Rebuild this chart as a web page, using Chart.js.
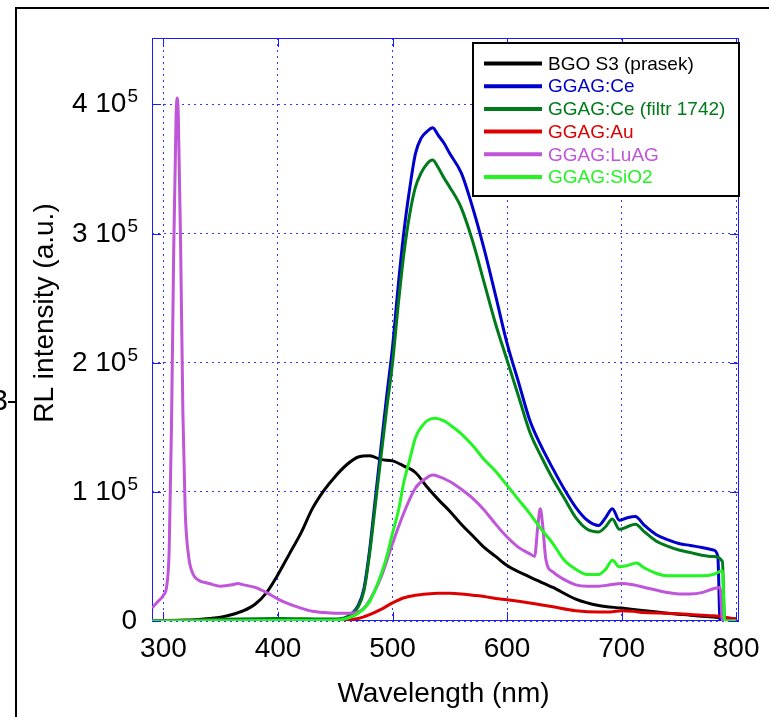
<!DOCTYPE html>
<html>
<head>
<meta charset="utf-8">
<title>RL spectra</title>
<script src="https://cdn.jsdelivr.net/npm/chart.js@4.4.1/dist/chart.umd.min.js"></script>
<style>
  html, body { margin: 0; padding: 0; background: #fff; }
  canvas { display: block; }
</style>
</head>
<body>
<canvas id="rl-chart" width="769" height="717"></canvas>
<script>
// values, intensity in units of 10^5
const xTicks = [300, 400, 500, 600, 700, 800];
const yTicks = [0, 1, 2, 3, 4];

const bgoNm  = [290, 320, 340, 350, 360, 370, 380, 390, 400, 410, 420, 430, 440, 450, 460, 470, 480, 490, 500, 510, 520, 530, 540, 550, 560, 570, 580, 590, 600, 620, 640, 660, 680, 700, 720, 740, 760, 780, 800];
const bgoVal = [0.003, 0.005, 0.02, 0.03, 0.05, 0.08, 0.13, 0.22, 0.36, 0.52, 0.68, 0.87, 1.01, 1.12, 1.21, 1.27, 1.28, 1.25, 1.24, 1.2, 1.15, 1.04, 0.94, 0.85, 0.75, 0.66, 0.57, 0.5, 0.43, 0.34, 0.26, 0.17, 0.12, 0.1, 0.08, 0.06, 0.045, 0.03, 0.015];

const ceNm  = [290, 400, 450, 460, 470, 475, 480, 485, 490, 495, 500, 505, 510, 515, 520, 525, 530, 535, 540, 545, 550, 560, 570, 580, 590, 600, 610, 620, 630, 640, 650, 660, 670, 680, 686, 692, 698, 705, 712, 720, 730, 740, 750, 760, 770, 780, 784, 786, 800];
const ceVal = [0, 0.005, 0.01, 0.03, 0.12, 0.25, 0.55, 0.95, 1.35, 1.75, 2.12, 2.6, 3.02, 3.35, 3.62, 3.74, 3.79, 3.82, 3.76, 3.7, 3.62, 3.47, 3.2, 2.88, 2.52, 2.15, 1.85, 1.55, 1.35, 1.18, 1.02, 0.88, 0.78, 0.74, 0.8, 0.87, 0.78, 0.8, 0.81, 0.74, 0.67, 0.63, 0.6, 0.585, 0.57, 0.55, 0.5, 0, 0];

const filtrNm  = [290, 330, 400, 450, 460, 470, 475, 480, 485, 490, 495, 500, 505, 510, 515, 520, 525, 530, 535, 540, 545, 550, 560, 570, 580, 590, 600, 610, 620, 630, 640, 650, 660, 670, 680, 686, 692, 698, 705, 712, 720, 730, 740, 750, 760, 770, 780, 788, 790, 800];
const filtrVal = [0, 0.01, 0.02, 0.015, 0.03, 0.11, 0.23, 0.52, 0.9, 1.28, 1.65, 2.0, 2.45, 2.85, 3.15, 3.36, 3.47, 3.54, 3.57, 3.51, 3.43, 3.36, 3.2, 2.94, 2.62, 2.3, 2.02, 1.74, 1.46, 1.27, 1.1, 0.95, 0.8, 0.71, 0.69, 0.73, 0.79, 0.71, 0.73, 0.75, 0.69, 0.62, 0.58, 0.55, 0.53, 0.51, 0.5, 0.46, 0, 0];

const auNm  = [290, 440, 450, 460, 470, 480, 490, 500, 510, 520, 530, 540, 550, 560, 570, 580, 590, 600, 620, 640, 660, 680, 690, 700, 710, 720, 740, 760, 780, 790, 800];
const auVal = [0, 0, 0.002, 0.01, 0.02, 0.05, 0.09, 0.14, 0.18, 0.2, 0.21, 0.215, 0.215, 0.21, 0.2, 0.19, 0.175, 0.165, 0.14, 0.11, 0.08, 0.07, 0.07, 0.08, 0.075, 0.065, 0.06, 0.05, 0.04, 0.03, 0.015];

const luagNm  = [290, 295, 300, 303, 305, 307, 309, 311, 312, 313, 315, 317, 319, 322, 326, 330, 340, 350, 360, 365, 370, 380, 390, 400, 410, 420, 430, 440, 450, 460, 470, 475, 480, 490, 500, 510, 520, 530, 535, 540, 550, 560, 570, 580, 590, 600, 610, 620, 624, 627, 629, 631, 634, 640, 650, 660, 670, 680, 690, 700, 710, 720, 730, 740, 750, 760, 770, 780, 786, 788, 800];
const luagVal = [0.1, 0.15, 0.2, 0.28, 0.55, 1.5, 2.9, 3.9, 4.05, 3.9, 2.9, 1.6, 0.85, 0.5, 0.36, 0.32, 0.29, 0.27, 0.28, 0.29, 0.28, 0.26, 0.22, 0.17, 0.13, 0.1, 0.075, 0.065, 0.06, 0.06, 0.07, 0.1, 0.16, 0.34, 0.6, 0.84, 1.03, 1.11, 1.13, 1.12, 1.08, 1.02, 0.95, 0.86, 0.75, 0.65, 0.57, 0.52, 0.5, 0.75, 0.87, 0.75, 0.47, 0.38, 0.32, 0.28, 0.27, 0.27, 0.28, 0.29, 0.28, 0.26, 0.24, 0.22, 0.21, 0.21, 0.22, 0.25, 0.26, 0, 0];

const sio2Nm  = [290, 450, 460, 470, 480, 490, 495, 500, 505, 510, 515, 520, 525, 530, 537, 545, 550, 560, 570, 580, 590, 600, 610, 620, 630, 640, 650, 660, 670, 680, 686, 692, 698, 705, 713, 720, 730, 740, 750, 760, 770, 780, 788, 790, 800];
const sio2Val = [0, 0.005, 0.02, 0.06, 0.15, 0.36, 0.5, 0.68, 0.85, 1.08, 1.25, 1.42, 1.5, 1.55, 1.57, 1.55, 1.52, 1.45, 1.36, 1.25, 1.16, 1.05, 0.94, 0.83, 0.71, 0.6, 0.47, 0.4, 0.36, 0.36, 0.4, 0.47, 0.42, 0.43, 0.45, 0.41, 0.37, 0.35, 0.35, 0.35, 0.35, 0.36, 0.39, 0, 0];

const labels = ['BGO S3 (prasek)', 'GGAG:Ce', 'GGAG:Ce (filtr 1742)', 'GGAG:Au', 'GGAG:LuAG', 'GGAG:SiO2'];
const colors = ['#000000', '#0000cc', '#007a1a', '#dd0000', '#bf55d8', '#22f522'];
const series = [[bgoNm, bgoVal], [ceNm, ceVal], [filtrNm, filtrVal], [auNm, auVal], [luagNm, luagVal], [sio2Nm, sio2Val]];

const FONT = "'Liberation Sans', Arial, sans-serif";
const axisBlue = '#1a1aff';
const gridBlue = 'rgba(20,20,255,0.85)';

const toPoints = (nm, val) => nm.map((x, i) => ({ x: x, y: val[i] }));

const datasets = series.map((s, i) => ({
    label: labels[i],
    data: toPoints(s[0], s[1]),
    borderColor: colors[i],
    backgroundColor: colors[i],
    borderWidth: 3,
    pointRadius: 0,
    cubicInterpolationMode: 'monotone',
    order: series.length - i // later series on top, like matlab
}));

const matlabLook = {
    id: 'matlabLook',
    beforeDatasetsDraw(chart) {
        const { ctx, chartArea: a, scales: { x, y } } = chart;
        ctx.save();
        ctx.strokeStyle = axisBlue;
        ctx.lineWidth = 1;
        ctx.strokeRect(a.left + 0.5, a.top + 0.5, a.width - 1, a.height - 1);
        ctx.beginPath();
        xTicks.forEach(v => {
            const px = Math.round(x.getPixelForValue(v)) + 0.5;
            ctx.moveTo(px, a.bottom); ctx.lineTo(px, a.bottom - 9);
            ctx.moveTo(px, a.top); ctx.lineTo(px, a.top + 9);
        });
        yTicks.forEach(v => {
            const py = Math.round(y.getPixelForValue(v)) + 0.5;
            ctx.moveTo(a.left, py); ctx.lineTo(a.left + 9, py);
            ctx.moveTo(a.right, py); ctx.lineTo(a.right - 9, py);
        });
        ctx.stroke();
        ctx.restore();
    },
    afterDraw(chart) {
        const { ctx, chartArea: a, scales: { x, y } } = chart;
        ctx.save();
        ctx.fillStyle = '#000';

        // x tick labels
        ctx.font = '28px ' + FONT;
        ctx.textAlign = 'center';
        ctx.textBaseline = 'alphabetic';
        xTicks.forEach(v => ctx.fillText(String(v), x.getPixelForValue(v), 657));

        // y tick labels, "n 10^5"
        ctx.textAlign = 'right';
        yTicks.forEach(v => {
            const py = y.getPixelForValue(v);
            if (v === 0) {
                ctx.font = '28px ' + FONT;
                ctx.fillText('0', 137, py + 8);
                return;
            }
            ctx.font = '19px ' + FONT;
            ctx.fillText('5', 138, py - 2);
            const supW = ctx.measureText('5').width;
            ctx.font = '28px ' + FONT;
            ctx.fillText(v + ' 10', 138 - supW - 1, py + 8);
        });

        // axis titles
        ctx.textAlign = 'center';
        ctx.fillText('Wavelength (nm)', (a.left + a.right) / 2 - 2, 702);
        ctx.save();
        ctx.translate(53, 313);
        ctx.rotate(-Math.PI / 2);
        ctx.fillText('RL intensity (a.u.)', 0, 0);
        ctx.restore();

        // legend box
        const lx = 473, ly = 43, lw = 266, lh = 153;
        ctx.fillStyle = '#fff';
        ctx.fillRect(lx, ly, lw, lh);
        ctx.strokeStyle = '#000';
        ctx.lineWidth = 2;
        ctx.strokeRect(lx, ly, lw, lh);
        ctx.font = '19px ' + FONT;
        ctx.textAlign = 'left';
        ctx.textBaseline = 'middle';
        chart.data.datasets.forEach((ds, i) => {
            const ry = 63.5 + i * 22.7;
            ctx.strokeStyle = ds.borderColor;
            ctx.lineWidth = 4;
            ctx.beginPath();
            ctx.moveTo(484, ry);
            ctx.lineTo(542, ry);
            ctx.stroke();
            ctx.fillStyle = ds.borderColor;
            ctx.fillText(ds.label, 548, ry + 1);
        });

        // outer frame of the cropped figure
        ctx.strokeStyle = '#000';
        ctx.lineWidth = 2;
        ctx.beginPath();
        ctx.moveTo(16, 717);
        ctx.lineTo(16, 8);
        ctx.lineTo(769, 8);
        ctx.stroke();
        ctx.beginPath();
        ctx.moveTo(8, 402);
        ctx.lineTo(16, 402);
        ctx.stroke();
        ctx.fillStyle = '#000';
        ctx.font = '30px ' + FONT;
        ctx.textAlign = 'right';
        ctx.textBaseline = 'alphabetic';
        ctx.fillText('3', 8, 410);
        ctx.restore();
    }
};

new Chart(document.getElementById('rl-chart').getContext('2d'), {
    type: 'line',
    data: { datasets: datasets },
    options: {
        responsive: false,
        animation: false,
        devicePixelRatio: 1,
        layout: { padding: { left: 152, right: 30, top: 38, bottom: 96 } },
        plugins: { legend: { display: false }, tooltip: { enabled: false } },
        scales: {
            x: {
                type: 'linear',
                min: 290,
                max: 802.5,
                afterBuildTicks: s => { s.ticks = xTicks.map(v => ({ value: v })); },
                afterFit: s => { s.height = 0; },
                ticks: { display: false },
                border: { display: false, dash: [2, 4] },
                grid: { color: gridBlue, lineWidth: 1, drawTicks: false }
            },
            y: {
                min: 0,
                max: 4.515,
                afterBuildTicks: s => { s.ticks = yTicks.map(v => ({ value: v })); },
                afterFit: s => { s.width = 0; },
                ticks: { display: false },
                border: { display: false, dash: [2, 4] },
                grid: { color: gridBlue, lineWidth: 1, drawTicks: false }
            }
        }
    },
    plugins: [matlabLook]
});
</script>
</body>
</html>
